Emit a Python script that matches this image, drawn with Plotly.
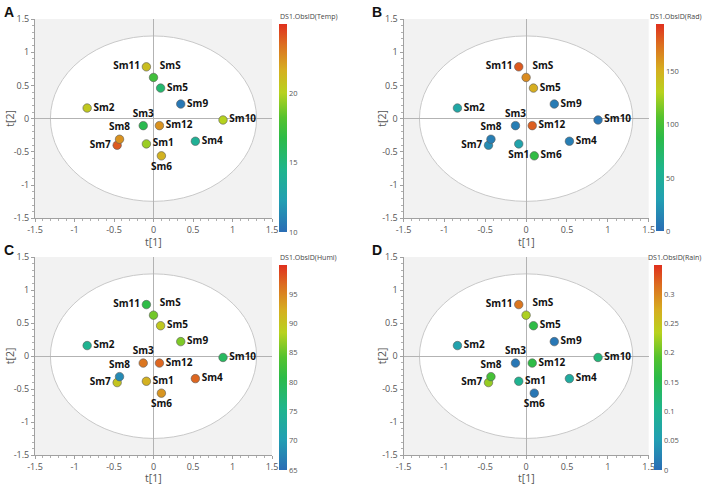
import plotly.graph_objects as go

# ---------------- data ----------------
names = ["Sm1", "Sm2", "Sm3", "Sm4", "Sm5", "Sm6", "Sm7", "Sm8", "Sm9", "Sm10", "Sm11", "Sm12", "SmS"]
t1 = [-0.09, -0.84, -0.13, 0.53, 0.09, 0.10, -0.46, -0.43, 0.345, 0.88, -0.09, 0.075, 0.0]
t2 = [-0.38, 0.16, -0.105, -0.34, 0.46, -0.56, -0.40, -0.31, 0.22, -0.02, 0.78, -0.105, 0.62]

temp = [19.5, 20.5, 16.5, 14.0, 15.5, 21.5, 24.0, 22.5, 10.5, 20.0, 21.0, 22.5, 17.5]
rad = [35, 40, 10, 10, 152, 90, 18, 10, 8, 5, 182, 180, 165]
humi = [92, 75, 96, 97, 89.5, 94, 90, 68, 86, 79, 81, 97, 85.5]
rain = [0.10, 0.06, 0.01, 0.08, 0.16, 0.01, 0.22, 0.18, 0.01, 0.12, 0.31, 0.16, 0.23]

axis_ticks = [-1.5, -1, -0.5, 0, 0.5, 1, 1.5]
axis_ticktext = ["-1.5", "-1", "-0.5", "0", "0.5", "1", "1.5"]

temp_ticks = [10, 15, 20]
rad_ticks = [0, 50, 100, 150]
humi_ticks = [65, 70, 75, 80, 85, 90, 95]
rain_ticks = [0, 0.05, 0.1, 0.15, 0.2, 0.25, 0.3]

ellipse_a = 1.305
ellipse_b = 1.245

# ---------------- style ----------------
W, H = 703, 484
colorscale = [
    [0.0, "#2a6db5"],
    [0.15, "#229fb3"],
    [0.3, "#1fb58c"],
    [0.45, "#2cbb48"],
    [0.55, "#55c22e"],
    [0.67, "#b8d21e"],
    [0.78, "#d6ae20"],
    [0.9, "#dc6f20"],
    [1.0, "#e0301e"],
]

base_pos = {
    "Sm1": "middle right", "Sm2": "middle right", "Sm3": "top center",
    "Sm4": "middle right", "Sm5": "middle right", "Sm6": "bottom center",
    "Sm7": "middle left", "Sm8": "top center", "Sm9": "middle right",
    "Sm10": "middle right", "Sm11": "middle left", "Sm12": "middle right",
    "SmS": "top right",
}
pos_b = dict(base_pos, Sm1="bottom center", Sm6="middle right")


def px_x(p):
    return p / W


def px_y(p):
    return 1 - p / H


panels = [
    dict(letter="A", label="DS1.ObsID(Temp)", vals=temp, cmin=10, cmax=25, ticks=temp_ticks,
         x0=35, x1=272, y0=19, y1=218.3, cbx=279, cbtop=24, cbbot=232, pos=base_pos, lx=2, ly=2,
         ytx=10, xty=241.5, right=False),
    dict(letter="B", label="DS1.ObsID(Rad)", vals=rad, cmin=0, cmax=195, ticks=rad_ticks,
         x0=403.5, x1=648.7, y0=19, y1=218.3, cbx=656, cbtop=24, cbbot=231, pos=pos_b, lx=370, ly=2,
         ytx=382, xty=241.5, right=True),
    dict(letter="C", label="DS1.ObsID(Humi)", vals=humi, cmin=65, cmax=100, ticks=humi_ticks,
         x0=35, x1=272, y0=257, y1=455.3, cbx=279, cbtop=265, cbbot=470, pos=base_pos, lx=2, ly=240,
         ytx=10, xty=478, right=False),
    dict(letter="D", label="DS1.ObsID(Rain)", vals=rain, cmin=0, cmax=0.35, ticks=rain_ticks,
         x0=403.5, x1=648.7, y0=257, y1=455.3, cbx=654, cbtop=265, cbbot=470, pos=base_pos, lx=370, ly=240,
         ytx=382, xty=478, right=True),
]

fig = go.Figure()
annotations = []
shapes = []
layout_axes = {}
title_font = dict(family="Open Sans", size=10.5, color="#555555")

for i, p in enumerate(panels):
    n = "" if i == 0 else str(i + 1)
    xa, ya = "x" + n, "y" + n
    fig.add_trace(go.Scatter(
        x=t1, y=t2, xaxis=xa, yaxis=ya,
        mode="markers+text",
        text=names,
        textposition=[p["pos"][nm] for nm in names],
        textfont=dict(family="Open Sans", size=10, color="#111111", weight="bold"),
        marker=dict(
            size=8.5, color=p["vals"], colorscale=colorscale, cmin=p["cmin"], cmax=p["cmax"],
            line=dict(color="#5a5a5a", width=0.6),
            showscale=True,
            colorbar=dict(
                x=px_x(p["cbx"]), xanchor="left", xpad=0,
                y=px_y(p["cbtop"]), yanchor="top", ypad=0,
                len=(p["cbbot"] - p["cbtop"]) / H, lenmode="fraction",
                thickness=8, thicknessmode="pixels",
                outlinewidth=0, tickvals=p["ticks"],
                tickfont=dict(family="Open Sans", size=7.5, color="#555555"),
                ticks="", ticklabelposition="outside",
            ),
        ),
        showlegend=False, cliponaxis=False, hoverinfo="skip",
    ))
    axis_common = dict(
        range=[-1.5, 1.5], showgrid=False, zeroline=True, zerolinecolor="#b3b3b3", zerolinewidth=1,
        showline=True, linecolor="#a0a0a0", linewidth=1,
        ticks="outside", ticklen=3, tickcolor="#a0a0a0",
        tickmode="array", tickvals=axis_ticks, ticktext=axis_ticktext,
        tickfont=dict(family="Open Sans", size=9, color="#555555"),
        minor=dict(ticks="outside", ticklen=2, tickcolor="#b0b0b0", dtick=0.1, tick0=-1.5, showgrid=False),
        fixedrange=True, mirror=False, automargin=False,
    )
    layout_axes["xaxis" + n] = dict(axis_common, domain=[px_x(p["x0"]), px_x(p["x1"])], anchor=ya)
    layout_axes["yaxis" + n] = dict(axis_common, domain=[px_y(p["y1"]), px_y(p["y0"])], anchor=xa)
    shapes.append(dict(
        type="circle", xref=xa, yref=ya, x0=-ellipse_a, x1=ellipse_a, y0=-ellipse_b, y1=ellipse_b,
        fillcolor="white", line=dict(color="#c8c8c8", width=1), layer="below",
    ))
    annotations.append(dict(
        text=p["letter"], xref="paper", yref="paper", x=px_x(p["lx"]), y=px_y(p["ly"]),
        xanchor="left", yanchor="top", showarrow=False,
        font=dict(family="Liberation Sans", size=14, color="#111111", weight="bold"),
    ))
    annotations.append(dict(
        text=p["label"], xref="paper", yref="paper",
        x=(1.0 if p["right"] else px_x(p["cbx"] - 1)), y=px_y(p["cbtop"] - 1),
        xanchor=("right" if p["right"] else "left"), yanchor="bottom", showarrow=False,
        font=dict(family="Open Sans", size=7, color="#444444"),
    ))
    # axis titles
    annotations.append(dict(
        text="t[1]", xref="paper", yref="paper", x=px_x((p["x0"] + p["x1"]) / 2), y=px_y(p["xty"]),
        xanchor="center", yanchor="middle", showarrow=False, font=title_font, borderpad=0,
    ))
    annotations.append(dict(
        text="t[2]", xref="paper", yref="paper", x=px_x(p["ytx"]), y=px_y((p["y0"] + p["y1"]) / 2),
        xanchor="center", yanchor="middle", showarrow=False, textangle=-90, font=title_font,
    ))

fig.update_layout(
    width=W, height=H, margin=dict(l=0, r=0, t=0, b=0, autoexpand=False),
    paper_bgcolor="white", plot_bgcolor="#f2f2f2",
    shapes=shapes, annotations=annotations, **layout_axes,
)

fig.write_html("out.html", config={"displayModeBar": False},
               post_script="document.body.style.margin='0';")
